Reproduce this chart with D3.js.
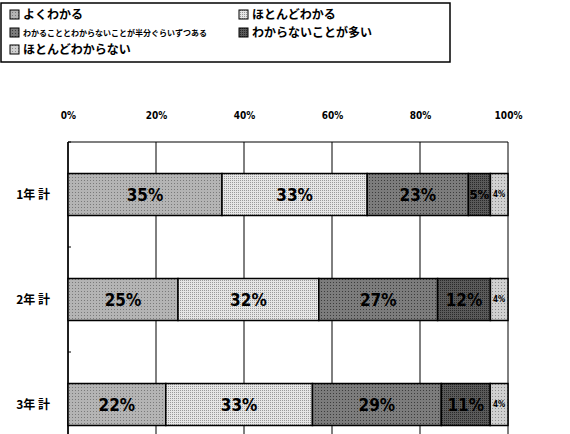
<!DOCTYPE html>
<html>
<head>
<meta charset="utf-8">
<script src="https://cdn.jsdelivr.net/npm/d3@7"></script>
<style>
  body { margin: 0; background: #fff; }
  text { font-family: "Noto Sans CJK JP", "DejaVu Sans", sans-serif; }
</style>
</head>
<body>
<div id="chart"></div>
<script>
// answer categories (legend order) and school years
const answers = ["よくわかる", "ほとんどわかる", "わかることとわからないことが半分ぐらいずつある", "わからないことが多い", "ほとんどわからない"];
const years = ["1年 計", "2年 計", "3年 計"];
// percentages per year, same order as answers
const yr1 = [35, 33, 23, 5, 4];
const yr2 = [25, 32, 27, 12, 4];
const yr3 = [22, 33, 29, 11, 4];
const ticks = [0, 0.2, 0.4, 0.6, 0.8, 1];

const W = 570, H = 434;
const rows = years.map((y, i) => {
  const vals = [yr1, yr2, yr3][i];
  const o = { year: y };
  answers.forEach((a, j) => o[a] = vals[j]);
  return o;
});

const svg = d3.select("#chart").append("svg")
  .attr("width", W).attr("height", H);

// halftone-ish fills
const defs = svg.append("defs");
const fills = [
  { id: "p0", bg: "#b4b4b4", dot: "#7a7a7a", size: 3 },
  { id: "p1", bg: "#e6e6e6", dot: "#9a9a9a", size: 2 },
  { id: "p2", bg: "#7c7c7c", dot: "#3c3c3c", size: 3 },
  { id: "p3", bg: "#5a5a5a", dot: "#2a2a2a", size: 2 },
  { id: "p4", bg: "#d0d0d0", dot: "#8c8c8c", size: 3 }
];
fills.forEach(f => {
  const p = defs.append("pattern").attr("id", f.id)
    .attr("width", f.size).attr("height", f.size)
    .attr("patternUnits", "userSpaceOnUse");
  p.append("rect").attr("width", f.size).attr("height", f.size).attr("fill", f.bg);
  p.append("rect").attr("width", 1).attr("height", 1).attr("fill", f.dot);
});
const color = d3.scaleOrdinal().domain(answers).range(fills.map(f => `url(#${f.id})`));

// legend
const lg = svg.append("g");
lg.append("rect").attr("x", 1).attr("y", 3).attr("width", 449).attr("height", 59)
  .attr("fill", "none").attr("stroke", "#000").attr("stroke-width", 1.5);
const legPos = [[10, 15, 12], [239, 15, 12], [10, 33, 8], [239, 33, 12], [10, 50, 12]];
answers.forEach((a, i) => {
  const [lx, ly, fs] = legPos[i];
  lg.append("rect").attr("x", lx).attr("y", ly - 5).attr("width", 9).attr("height", 9)
    .attr("fill", color(a)).attr("stroke", "#000").attr("stroke-width", 1);
  lg.append("text").attr("x", lx + 13).attr("y", ly).attr("dy", "0.36em")
    .style("font-size", fs + "px").style("font-weight", "bold").text(a);
});

// plot
const x = d3.scaleLinear().domain([0, 1]).range([68, 508]);
const y = d3.scaleBand().domain(years).range([142, 457]).paddingInner(0.6).paddingOuter(0.3);

svg.append("g").selectAll("line").data(ticks).join("line")
  .attr("x1", d => x(d)).attr("x2", d => x(d))
  .attr("y1", 142).attr("y2", 457)
  .attr("stroke", "#000").attr("stroke-width", 1);
svg.append("line").attr("x1", x(0)).attr("x2", x(1)).attr("y1", 142).attr("y2", 142)
  .attr("stroke", "#000").attr("stroke-width", 1.2);
svg.append("line").attr("x1", x(0)).attr("x2", x(0)).attr("y1", 142).attr("y2", 457)
  .attr("stroke", "#000").attr("stroke-width", 1.5);

// small ticks on the category axis
svg.append("g").selectAll("line").data(years).join("line")
  .attr("x1", x(0)).attr("x2", x(0) + 3)
  .attr("y1", d => y(d) - y.step() * 0.3).attr("y2", d => y(d) - y.step() * 0.3)
  .attr("stroke", "#000");

const axTop = svg.append("g").attr("transform", "translate(0,122)")
  .call(d3.axisTop(x).tickValues(ticks).tickFormat(d3.format(".0%")).tickSize(0));
axTop.select(".domain").remove();
axTop.selectAll("text").style("font-size", "10px").style("font-weight", "bold")
  .style("font-family", "'DejaVu Sans Condensed', 'DejaVu Sans', sans-serif");

svg.append("g").selectAll("text").data(years).join("text")
  .attr("x", 50).attr("y", d => y(d) + y.bandwidth() / 2).attr("dy", "0.36em")
  .attr("text-anchor", "end").style("font-size", "12px").style("font-weight", "bold")
  .text(d => d);

const stack = d3.stack().keys(answers).offset(d3.stackOffsetExpand)(rows);
const layers = svg.append("g").selectAll("g").data(stack).join("g")
  .attr("fill", d => color(d.key));
layers.selectAll("rect").data(d => d).join("rect")
  .attr("x", d => x(d[0])).attr("width", d => x(d[1]) - x(d[0]))
  .attr("y", d => y(d.data.year)).attr("height", y.bandwidth())
  .attr("stroke", "#000").attr("stroke-width", 1.5);

const labels = svg.append("g");
stack.forEach(layer => {
  layer.forEach(d => {
    const w = x(d[1]) - x(d[0]);
    const fs = w > 40 ? 17 : (w > 18 ? 13 : 8);
    labels.append("text")
      .attr("x", (x(d[0]) + x(d[1])) / 2).attr("y", y(d.data.year) + y.bandwidth() / 2)
      .attr("dy", "0.36em").attr("text-anchor", "middle")
      .style("font-size", fs + "px").style("font-weight", "bold")
      .style("font-family", "'DejaVu Sans Condensed', 'Liberation Sans Narrow', sans-serif")
      .attr("fill", "#000")
      .text(d.data[layer.key] + "%");
  });
});
</script>
</body>
</html>
